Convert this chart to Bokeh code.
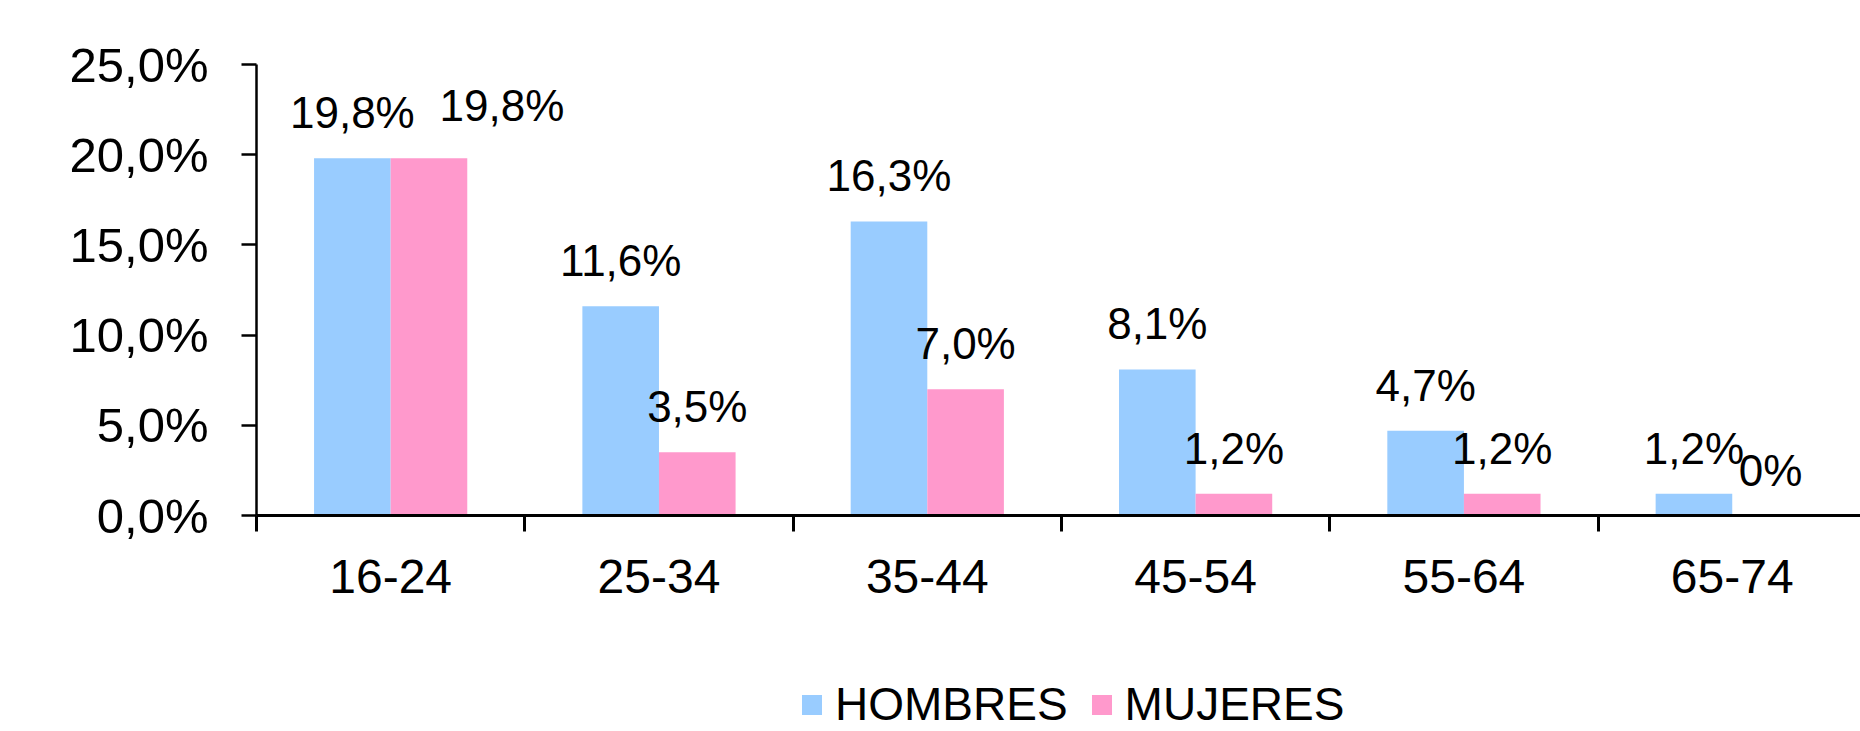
from bokeh.plotting import figure
from bokeh.layouts import column
from bokeh.models import (ColumnDataSource, FixedTicker, Range1d, LabelSet,
                          Legend, LegendItem)
from bokeh.core.properties import value
from bokeh.embed import file_html
from bokeh.resources import INLINE

# ---- data ----
categories = ["16-24", "25-34", "35-44", "45-54", "55-64", "65-74"]
hombres = [19.8, 11.6, 16.3, 8.1, 4.7, 1.2]
mujeres = [19.8, 3.5, 7.0, 1.2, 1.2, 0.0]
series_names = ["HOMBRES", "MUJERES"]
y_ticks = [0, 5, 10, 15, 20, 25]

BLUE = "#99CCFF"
PINK = "#FF99CC"
FONT = "Liberation Sans"

# label placement (screen px): default gap above bar, plus a manual nudge
LABEL_GAP = 30
label_nudge = {("MUJERES", 0): (73, 7)}


def fmt_label(v):
    return "0%" if v == 0 else f"{v:.1f}".replace(".", ",") + "%"


bar_w = 0.2855
centers = [i + 0.5 for i in range(len(categories))]


def make_source(name, vals, sign):
    n = range(len(vals))
    return ColumnDataSource(dict(
        x=[c + sign * bar_w / 2 for c in centers], y=vals,
        label=[fmt_label(v) for v in vals],
        dx=[label_nudge.get((name, i), (0, 0))[0] for i in n],
        dy=[LABEL_GAP + label_nudge.get((name, i), (0, 0))[1] for i in n]))


src_h = make_source(series_names[0], hombres, -1)
src_m = make_source(series_names[1], mujeres, +1)

p = figure(width=1860, height=615, output_backend="svg", toolbar_location=None,
           x_range=Range1d(0, 5.978), y_range=Range1d(0, 25),
           min_border_left=256, min_border_right=0, min_border_top=64,
           min_border_bottom=100)
p.outline_line_color = None
p.xgrid.grid_line_color = None
p.ygrid.grid_line_color = None
p.background_fill_color = "white"
p.border_fill_color = "white"

p.vbar(x="x", top="y", width=bar_w, source=src_h, fill_color=BLUE,
       line_color=None)
p.vbar(x="x", top="y", width=bar_w, source=src_m, fill_color=PINK,
       line_color=None)

for src in (src_h, src_m):
    p.add_layout(LabelSet(x="x", y="y", text="label", source=src,
                          x_offset="dx", y_offset="dy",
                          text_align="center", text_baseline="alphabetic",
                          text_font=value(FONT),
                          text_font_size="44px", text_color="black"))

# x axis
xa = p.xaxis[0]
xa.ticker = FixedTicker(ticks=centers,
                        minor_ticks=list(range(len(categories) + 1)))
xa.major_label_overrides = {c: cat for c, cat in zip(centers, categories)}
xa.major_tick_out = 0
xa.major_tick_in = 0
xa.major_tick_line_color = None
xa.minor_tick_out = 16
xa.minor_tick_in = 0
xa.minor_tick_line_width = 3
xa.minor_tick_line_color = "black"
xa.axis_line_width = 3
xa.axis_line_color = "black"
xa.major_label_standoff = 28
xa.major_label_text_font = FONT
xa.major_label_text_font_size = "48px"
xa.major_label_text_color = "black"

# y axis
ya = p.yaxis[0]
ya.ticker = FixedTicker(ticks=y_ticks)
ya.major_label_overrides = {t: f"{t:.1f}".replace(".", ",") + "%" for t in y_ticks}
ya.major_tick_out = 15
ya.major_tick_in = 0
ya.major_tick_line_width = 2.5
ya.major_tick_line_color = "black"
ya.minor_tick_line_color = None
ya.axis_line_width = 2.5
ya.axis_line_color = "black"
ya.major_label_standoff = 33
ya.major_label_text_font = FONT
ya.major_label_text_font_size = "49px"
ya.major_label_text_color = "black"

# ---- legend strip below the chart (frame aligned with the chart's frame) ----
lg = figure(width=1860, height=116, output_backend="svg", toolbar_location=None,
            x_range=Range1d(0, 1), y_range=Range1d(0, 1),
            x_axis_location=None, y_axis_location=None,
            min_border_left=256, min_border_right=0, min_border_top=0,
            min_border_bottom=0)
lg.outline_line_color = None
lg.xgrid.grid_line_color = None
lg.ygrid.grid_line_color = None
lg.border_fill_color = "white"
lg.background_fill_color = "white"
lh = lg.vbar(x=centers, top=hombres, width=bar_w, fill_color=BLUE,
             line_color=None, visible=False)
lm = lg.vbar(x=centers, top=mujeres, width=bar_w, fill_color=PINK,
             line_color=None, visible=False)
legend = Legend(items=[LegendItem(label=series_names[0], renderers=[lh]),
                       LegendItem(label=series_names[1], renderers=[lm])],
                orientation="horizontal", location=(543, 0),
                glyph_width=25, glyph_height=25, label_standoff=11,
                spacing=21, padding=0, margin=0,
                label_text_font=FONT, label_text_font_size="46px",
                label_text_color="black", border_line_color=None,
                background_fill_alpha=0, inactive_fill_alpha=0)
lg.add_layout(legend, "center")

open("out.html", "w").write(file_html(column(p, lg), INLINE))
